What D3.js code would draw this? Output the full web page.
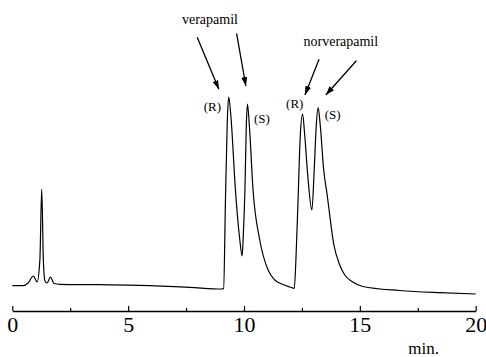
<!DOCTYPE html>
<html>
<head>
<meta charset="utf-8">
<script src="https://cdn.jsdelivr.net/npm/d3@7"></script>
<style>
  body { margin: 0; background: #fff; }
  svg { display: block; }
  text { font-family: "Liberation Serif", "Times New Roman", serif; fill: #000; }
</style>
</head>
<body>
<div id="chart"></div>
<script>
// retention time (min) and detector signal (arbitrary units)
var times = [0, 0.46, 0.68, 0.91, 1.07, 1.19, 1.27, 1.34, 1.41, 1.50, 1.65, 1.80, 2.06, 3.78, 5.51, 7.66,
    9.04, 9.12, 9.20, 9.28, 9.34, 9.43, 9.63, 9.82, 9.92, 9.97, 10.04, 10.10, 10.15, 10.23, 10.39, 10.68,
    11.04, 11.33, 11.63, 11.98, 12.17, 12.24, 12.34, 12.43, 12.53, 12.62, 12.75, 12.93, 13.03, 13.12,
    13.20, 13.29, 13.44, 13.59, 13.88, 14.13, 14.35, 14.69, 15.13, 16.72, 18.45, 20];
var signal = [25.3, 25.3, 28, 35, 29, 51, 122, 51, 30, 28, 34, 27.5, 26.7, 26.3, 25.7, 23.7,
    22, 22.5, 111, 191, 214, 196, 121, 71, 55, 76, 121, 186, 207, 186, 121, 71,
    41, 31, 27, 24, 22.7, 51, 116, 176, 197, 176, 136, 101, 141, 186,
    203.5, 186, 141, 116, 66, 46, 36, 29, 24.5, 20.5, 18.3, 17];

var majorTicks = [0, 5, 10, 15, 20];
var minorTicks = [2.5, 7.5, 12.5, 17.5];

// compound names and their arrows (start -> tip), in data units
var compoundNames = ["verapamil", "norverapamil"];
var compoundPos = [[8.53, 287], [14.18, 265]];
var arrowFrom = [[7.98, 273.7], [9.68, 277.7], [13.24, 251.7], [14.85, 250.3]];
var arrowTo = [[8.915, 221.7], [10.08, 225], [12.63, 216], [13.53, 216]];

// enantiomer labels
var enantiomers = ["(R)", "(S)", "(R)", "(S)"];
var enantiomerPos = [[8.635, 200], [10.77, 188], [12.19, 203.5], [13.83, 192]];

var margin = {top: 0, right: 10, bottom: 46, left: 12.3};
var W = 486, H = 357;
var width = W - margin.left - margin.right;
var height = H - margin.top - margin.bottom;

var svg = d3.select("#chart").append("svg")
    .attr("width", W)
    .attr("height", H);

var defs = svg.append("defs");
defs.append("marker")
    .attr("id", "head")
    .attr("markerUnits", "userSpaceOnUse")
    .attr("viewBox", "0 0 9 6")
    .attr("refX", 9)
    .attr("refY", 3)
    .attr("markerWidth", 9)
    .attr("markerHeight", 6)
    .attr("orient", "auto")
    .append("path")
    .attr("d", "M0,0 L9,3 L0,6 Z")
    .attr("fill", "#000");

var g = svg.append("g")
    .attr("transform", "translate(" + margin.left + "," + margin.top + ")");

//scales
var x = d3.scaleLinear().domain([0, 20]).range([0, width - 0.3]);
var y = d3.scaleLinear().domain([0, height]).range([height, 0]);

//x-axis, ticks point up
g.append("g")
    .attr("class", "x-axis")
    .attr("transform", "translate(0," + height + ")")
    .call(d3.axisBottom(x).tickValues(majorTicks).tickSizeInner(-5).tickSizeOuter(0).tickPadding(5))
    .call(function (a) {
        a.attr("font-family", null);
        a.select(".domain").attr("stroke-width", 1.6);
        a.selectAll(".tick line").attr("stroke-width", 1.2);
        a.selectAll(".tick text")
            .style("font-family", "'Liberation Serif', 'Times New Roman', serif")
            .style("font-size", "22px");
    });

g.append("g")
    .attr("class", "x-minor")
    .attr("transform", "translate(0," + height + ")")
    .call(d3.axisBottom(x).tickValues(minorTicks).tickSizeInner(-3).tickSizeOuter(0).tickFormat(""))
    .call(function (a) {
        a.select(".domain").remove();
        a.selectAll(".tick line").attr("stroke-width", 1.2);
    });

g.append("text")
    .attr("x", x(20) - 52)
    .attr("y", height + 43)
    .attr("text-anchor", "middle")
    .style("font-size", "17px")
    .text("min.");

//trace
var line = d3.line()
    .x(function (d, i) { return x(times[i]); })
    .y(function (d) { return y(d); })
    .curve(d3.curveMonotoneX);

g.append("path")
    .datum(signal)
    .attr("fill", "none")
    .attr("stroke", "#000")
    .attr("stroke-width", 1.2)
    .attr("d", line);

//annotations
g.selectAll(".compound")
    .data(compoundNames)
    .enter().append("text")
    .attr("class", "compound")
    .attr("x", function (d, i) { return x(compoundPos[i][0]); })
    .attr("y", function (d, i) { return y(compoundPos[i][1]); })
    .attr("text-anchor", "middle")
    .style("font-size", "14px")
    .text(function (d) { return d; });

g.selectAll(".arrow")
    .data(arrowFrom)
    .enter().append("line")
    .attr("class", "arrow")
    .attr("x1", function (d) { return x(d[0]); })
    .attr("y1", function (d) { return y(d[1]); })
    .attr("x2", function (d, i) { return x(arrowTo[i][0]); })
    .attr("y2", function (d, i) { return y(arrowTo[i][1]); })
    .attr("stroke", "#000")
    .attr("stroke-width", 1.3)
    .attr("marker-end", "url(#head)");

g.selectAll(".enant")
    .data(enantiomers)
    .enter().append("text")
    .attr("class", "enant")
    .attr("x", function (d, i) { return x(enantiomerPos[i][0]); })
    .attr("y", function (d, i) { return y(enantiomerPos[i][1]); })
    .attr("text-anchor", "middle")
    .style("font-size", "13px")
    .text(function (d) { return d; });
</script>
</body>
</html>
